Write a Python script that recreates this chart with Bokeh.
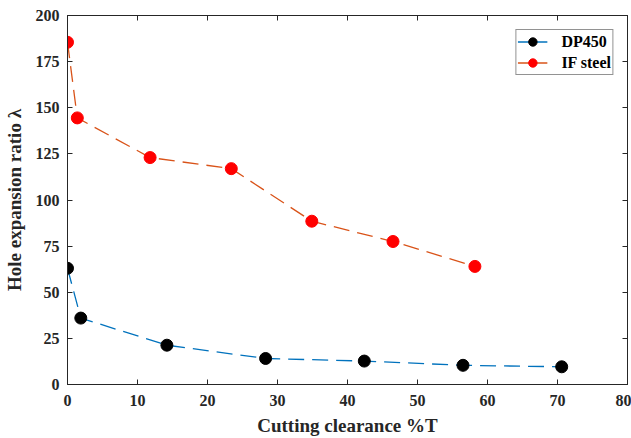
from bokeh.plotting import figure
from bokeh.models import LinearAxis, Legend, LegendItem, FixedTicker, CustomJSTickFormatter
from bokeh.embed import file_html
from bokeh.resources import INLINE

dp_x = [0.0, 1.9, 14.2, 28.3, 42.4, 56.5, 70.6]
dp_y = [63.0, 36.0, 21.3, 14.1, 12.7, 10.4, 9.6]
if_x = [0.0, 1.4, 11.8, 23.4, 34.9, 46.5, 58.2]
if_y = [185.5, 144.5, 123.0, 117.0, 88.5, 77.5, 64.0]
x_ticks = [0, 10, 20, 30, 40, 50, 60, 70, 80]
y_ticks = [0, 25, 50, 75, 100, 125, 150, 175, 200]

FONT = "Liberation Serif"
NAN = float("nan")

p = figure(width=631, height=438, x_range=(0, 80), y_range=(0, 200),
           output_backend="svg", toolbar_location=None,
           min_border_left=65, min_border_right=4, min_border_top=15, min_border_bottom=48)
p.background_fill_color = "white"
p.border_fill_color = "white"
p.outline_line_color = "#262626"
p.xgrid.visible = False
p.ygrid.visible = False

blank = CustomJSTickFormatter(code="return ''")
top = LinearAxis(ticker=FixedTicker(ticks=x_ticks), formatter=blank)
right = LinearAxis(ticker=FixedTicker(ticks=y_ticks), formatter=blank)
p.add_layout(top, "above")
p.add_layout(right, "right")

for ax in p.xaxis + p.yaxis:
    ax.major_tick_in = 5
    ax.major_tick_out = 0
    ax.minor_tick_line_color = None
    ax.axis_line_color = "#262626"
    ax.major_tick_line_color = "#262626"

for ax in (p.below[0], p.left[0]):
    ax.major_label_text_font = FONT
    ax.major_label_text_font_style = "bold"
    ax.major_label_text_font_size = "16px"
    ax.major_label_text_color = "#262626"
    ax.axis_label_text_font = FONT
    ax.axis_label_text_font_style = "bold"
    ax.axis_label_text_font_size = "19px"
    ax.axis_label_text_color = "#262626"

for ax in (top, right):
    ax.major_label_standoff = 0
    ax.major_label_text_font_size = "1px"

p.below[0].ticker = FixedTicker(ticks=x_ticks)
p.left[0].ticker = FixedTicker(ticks=y_ticks)
p.below[0].axis_label = "Cutting clearance %T"
p.left[0].axis_label = "Hole expansion ratio λ"
p.below[0].major_label_standoff = 10
p.left[0].major_label_standoff = 8
p.below[0].axis_label_standoff = 6
p.left[0].axis_label_standoff = 8

dash = "16 8"
l1 = p.line(dp_x, dp_y, line_color="#0072BD", line_width=1.3, line_dash=dash)
s1 = p.scatter(dp_x, dp_y, size=12, fill_color="black", line_color="black")
l2 = p.line(if_x, if_y, line_color="#D95319", line_width=1.3, line_dash=dash)
s2 = p.scatter(if_x, if_y, size=12, fill_color="red", line_color="red")

# solid-line proxies for the legend keys (no visible data)
k1 = p.line([NAN, NAN], [NAN, NAN], line_color="#0072BD", line_width=1.3)
k2 = p.line([NAN, NAN], [NAN, NAN], line_color="#D95319", line_width=1.3)

legend = Legend(items=[LegendItem(label="DP450", renderers=[k1, s1]),
                       LegendItem(label="IF steel", renderers=[k2, s2])],
                location="top_right")
legend.label_text_font = FONT
legend.label_text_font_style = "bold"
legend.label_text_font_size = "16px"
legend.label_text_color = "black"
legend.border_line_color = "#262626"
legend.border_line_width = 1
legend.margin = 14
legend.padding = 1
legend.spacing = 0
legend.label_height = 21
legend.glyph_height = 21
legend.glyph_width = 30
legend.label_standoff = 14
legend.background_fill_alpha = 1
p.add_layout(legend, "center")

open("out.html", "w").write(file_html(p, INLINE))
